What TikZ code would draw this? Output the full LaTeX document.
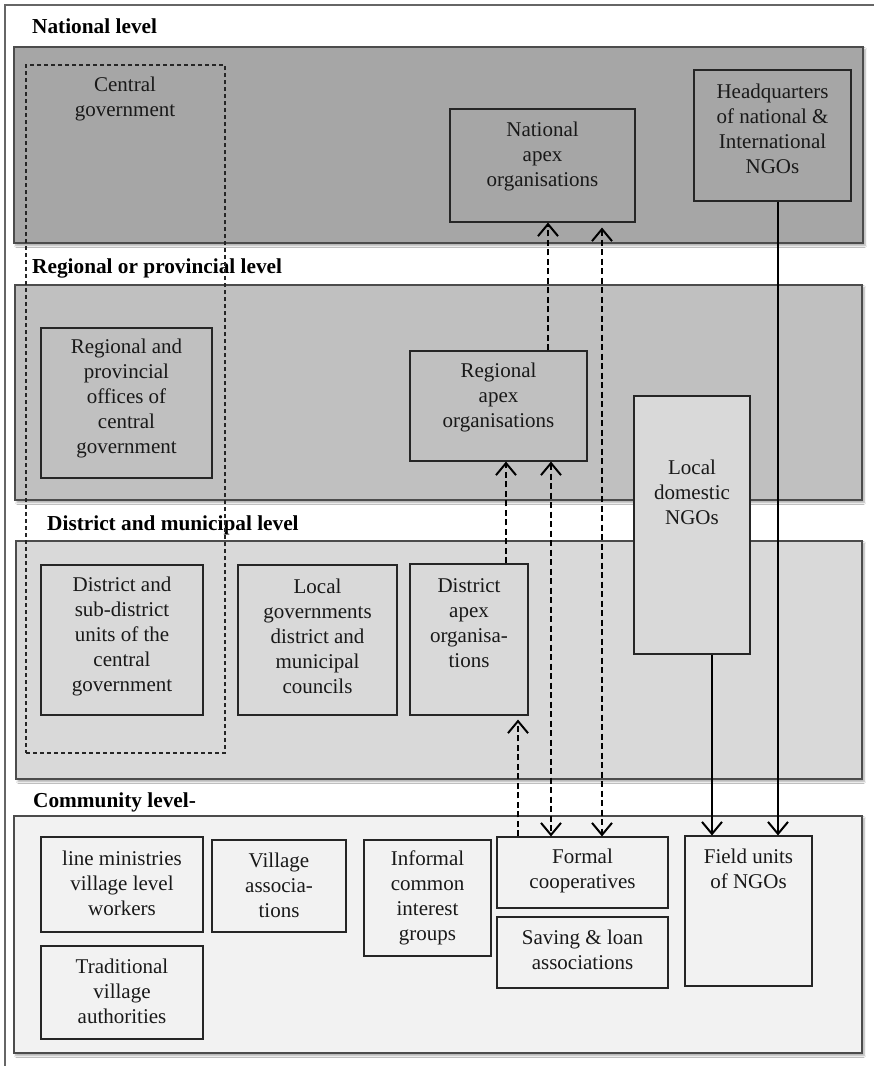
\documentclass[tikz,border=0pt]{standalone}
\usepackage{fontspec}
\setmainfont{Liberation Serif}
\usetikzlibrary{arrows.meta,fit,shadows.blur}
\definecolor{natgray}{RGB}{166,166,166}
\definecolor{reggray}{RGB}{192,192,192}
\definecolor{disgray}{RGB}{217,217,217}
\definecolor{comgray}{RGB}{242,242,242}
\begin{document}
\begin{tikzpicture}[x=1pt,y=-1pt,
  band/.style={draw=black!70, line width=1.3pt,
    blur shadow={shadow xshift=2pt, shadow yshift=-2.5pt, shadow blur steps=6, shadow opacity=35}},
  box/.style={draw=black!85, line width=1.1pt, inner sep=0pt},
  txt/.style={align=center, font=\fontsize{21}{25}\selectfont, inner sep=0pt, text=black!90},
  head/.style={anchor=base west, font=\fontsize{21.3}{25}\selectfont\bfseries, inner sep=0pt},
  dasharr/.style={line width=1.9pt, dash pattern=on 6pt off 3.5pt},
  solidarr/.style={line width=1.9pt},
  >={Straight Barb[length=12pt,width=20pt,line width=2pt]}
]
\useasboundingbox (0,0) rectangle (874,1066);
\fill[white] (0,0) rectangle (874,1066);

% outer frame
\draw[black!60, line width=1.2pt] (874,5) -- (5,5) -- (5,1066);

% level bands
\node[band, fill=natgray, inner sep=0pt, fit={(14,47) (863,243)}] (bnat) {};
\node[band, fill=reggray, inner sep=0pt, fit={(15,285) (862,500)}] (breg) {};
\node[band, fill=disgray, inner sep=0pt, fit={(16,541) (862,779)}] (bdis) {};
\node[band, fill=comgray, inner sep=0pt, fit={(14,816) (862,1053)}] (bcom) {};

% level headings
\node[head] (hnat) at (32,33) {National level};
\node[head] (hreg) at (32,273) {Regional or provincial level};
\node[head] (hdis) at (47,530) {District and municipal level};
\node[head] (hcom) at (33,807) {Community level-};

% central government (dashed frame spanning three levels)
\node[draw=black!85, line width=1.1pt, dash pattern=on 4pt off 3pt, inner sep=0pt,
      fit={(26,65) (225,753)}] (central) {};
\node[txt] (tcentral) at (125,98.5) {Central\\government};

% national level boxes
\node[box, fit={(450,109) (635,222)}] (natapex) {};
\node[txt] (tnatapex) at (542.5,156) {National\\apex\\organisations};
\node[box, fit={(694,70) (851,201)}] (hq) {};
\node[txt] (thq) at (772.5,128.5) {Headquarters\\of national \&\\International\\NGOs};

% regional level boxes
\node[box, fit={(41,328) (212,478)}] (regoff) {};
\node[txt] (tregoff) at (126.5,398) {Regional and\\provincial\\offices of\\central\\government};
\node[box, fit={(410,351) (587,461)}] (regapex) {};
\node[txt] (tregapex) at (498.5,397.5) {Regional\\apex\\organisations};
\node[box, fill=disgray, fit={(634,396) (750,654)}] (localngo) {};
\node[txt] (tlocalngo) at (692,492) {Local\\domestic\\NGOs};

% district level boxes
\node[box, fit={(41,565) (203,715)}] (distunit) {};
\node[txt] (tdistunit) at (122,636) {District and\\sub-district\\units of the\\central\\government};
\node[box, fit={(238,565) (397,715)}] (localgov) {};
\node[txt] (tlocalgov) at (317.5,636) {Local\\governments\\district and\\municipal\\councils};
\node[box, fit={(410,564) (528,715)}] (distapex) {};
\node[txt] (tdistapex) at (469,623) {District\\apex\\organisa-\\tions};

% community level boxes
\node[box, fit={(41,837) (203,932)}] (linemin) {};
\node[txt] (tlinemin) at (122,883.5) {line ministries\\village level\\workers};
\node[box, fit={(41,946) (203,1039)}] (trad) {};
\node[txt] (ttrad) at (122,991) {Traditional\\village\\authorities};
\node[box, fit={(212,840) (346,932)}] (village) {};
\node[txt] (tvillage) at (279,885.5) {Village\\associa-\\tions};
\node[box, fit={(364,840) (491,956)}] (informal) {};
\node[txt] (tinformal) at (427.5,897.5) {Informal\\common\\interest\\groups};
\node[box, fit={(497,837) (668,908)}] (formal) {};
\node[txt] (tformal) at (582.5,871) {Formal\\cooperatives};
\node[box, fit={(497,917) (668,988)}] (saving) {};
\node[txt] (tsaving) at (582.5,949.5) {Saving \& loan\\associations};
\node[box, fit={(685,836) (812,986)}] (field) {};
\node[txt] (tfield) at (748.5,869) {Field units\\of NGOs};

% connector columns
\coordinate (x506) at (506,0);
\coordinate (x518) at (518,0);
\coordinate (x548) at (548,0);
\coordinate (x551) at (551,0);
\coordinate (x602) at (602,0);
\coordinate (x712) at (712,0);
\coordinate (x778) at (778,0);

% apex organisations and cooperatives
\draw[dasharr, ->] (regapex.north -| x548) -- (natapex.south -| x548);
\draw[dasharr, <->, shorten <=5pt] (natapex.south -| x602) -- (formal.north -| x602);
\draw[dasharr, ->] (distapex.north -| x506) -- (regapex.south -| x506);
\draw[dasharr, <->] (regapex.south -| x551) -- (formal.north -| x551);
\draw[dasharr, ->, shorten >=4pt] (formal.north -| x518) -- (distapex.south -| x518);

% NGO channels
\draw[solidarr, ->] (hq.south -| x778) -- (field.north -| x778);
\draw[solidarr, ->] (localngo.south -| x712) -- (field.north -| x712);
\end{tikzpicture}
\end{document}
